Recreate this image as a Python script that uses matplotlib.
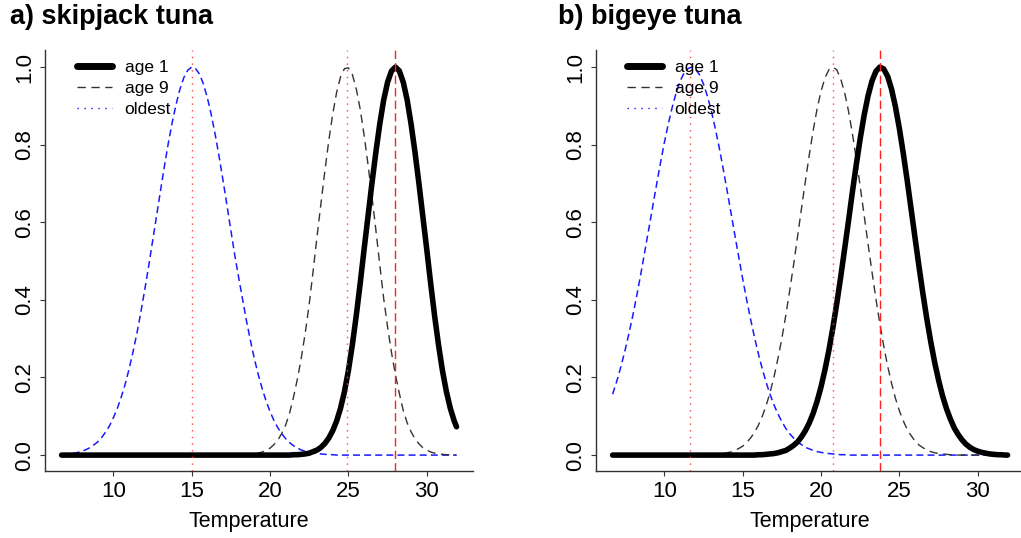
import matplotlib
matplotlib.use('Agg')
import matplotlib.pyplot as plt
from matplotlib.lines import Line2D

plt.rcParams['font.family'] = ['Liberation Sans', 'DejaVu Sans']
plt.rcParams['lines.scale_dashes'] = False

## Temperature grid the curves were read at (one row per degree)
temps = [6.7,
         7.0, 7.25, 7.5, 7.75, 8.0, 8.25, 8.5, 8.75, 9.0, 9.25, 9.5, 9.75,
         10.0, 10.25, 10.5, 10.75, 11.0, 11.25, 11.5, 11.75, 12.0, 12.25, 12.5, 12.75,
         13.0, 13.25, 13.5, 13.75, 14.0, 14.25, 14.5, 14.75, 15.0, 15.25, 15.5, 15.75,
         16.0, 16.25, 16.5, 16.75, 17.0, 17.25, 17.5, 17.75, 18.0, 18.25, 18.5, 18.75,
         19.0, 19.25, 19.5, 19.75, 20.0, 20.25, 20.5, 20.75, 21.0, 21.25, 21.5, 21.75,
         22.0, 22.25, 22.5, 22.75, 23.0, 23.25, 23.5, 23.75, 24.0, 24.25, 24.5, 24.75,
         25.0, 25.25, 25.5, 25.75, 26.0, 26.25, 26.5, 26.75, 27.0, 27.25, 27.5, 27.75,
         28.0, 28.25, 28.5, 28.75, 29.0, 29.25, 29.5, 29.75, 30.0, 30.25, 30.5, 30.75,
         31.0, 31.25, 31.5, 31.75,
         31.9]

## a) skipjack
skj_age1 = [0,
            0, 0, 0, 0,  0, 0, 0, 0,  0, 0, 0, 0,  0, 0, 0, 0,
            0, 0, 0, 0,  0, 0, 0, 0,  0, 0, 0, 0,  0, 0, 0, 0,
            0, 0, 0, 0,  0, 0, 0, 0,  0, 0, 0, 0,  0, 0, 0, 0,
            0, 0, 0, 0,  0, 0, 0, 0,
            0, 0, 0.001, 0.001,
            0.002, 0.003, 0.005, 0.009,
            0.013, 0.020, 0.030, 0.044,
            0.063, 0.088, 0.121, 0.164,
            0.218, 0.284, 0.359, 0.442,
            0.530, 0.615, 0.700, 0.780,
            0.853, 0.915, 0.961, 0.990,
            1.000, 0.990, 0.961, 0.915,
            0.853, 0.780, 0.700, 0.615,
            0.530, 0.442, 0.359, 0.284,
            0.218, 0.164, 0.121, 0.088,
            0.073]
skj_age9 = [0,
            0, 0, 0, 0,  0, 0, 0, 0,  0, 0, 0, 0,  0, 0, 0, 0,
            0, 0, 0, 0,  0, 0, 0, 0,  0, 0, 0, 0,  0, 0, 0, 0,
            0, 0, 0, 0,  0, 0, 0, 0,  0, 0, 0, 0,
            0, 0.001, 0.001, 0.002,
            0.003, 0.005, 0.008, 0.012,
            0.018, 0.027, 0.039, 0.056,
            0.078, 0.109, 0.150, 0.197,
            0.252, 0.316, 0.389, 0.475,
            0.564, 0.649, 0.733, 0.811,
            0.879, 0.935, 0.975, 0.996,
            0.998, 0.981, 0.944, 0.892,
            0.825, 0.749, 0.666, 0.581,
            0.491, 0.404, 0.330, 0.264,
            0.207, 0.159, 0.115, 0.083,
            0.060, 0.042, 0.029, 0.019,
            0.013, 0.008, 0.005, 0.003,
            0.002, 0.001, 0.001, 0,
            0]
skj_old = [0.002,
           0.003, 0.004, 0.005, 0.007,
           0.010, 0.014, 0.019, 0.026,
           0.034, 0.045, 0.059, 0.075,
           0.096, 0.120, 0.149, 0.182,
           0.221, 0.265, 0.313, 0.367,
           0.425, 0.486, 0.550, 0.614,
           0.679, 0.742, 0.802, 0.856,
           0.903, 0.943, 0.973, 0.992,
           1.000, 0.996, 0.982, 0.956,
           0.921, 0.877, 0.826, 0.769,
           0.708, 0.644, 0.579, 0.515,
           0.457, 0.401, 0.345, 0.295,
           0.248, 0.207, 0.171, 0.139,
           0.112, 0.089, 0.070, 0.055,
           0.042, 0.032, 0.024, 0.018,
           0.013, 0.010, 0.007, 0.005,
           0.004, 0.003, 0.002, 0.001,
           0.001, 0, 0, 0,
           0, 0, 0, 0,  0, 0, 0, 0,  0, 0, 0, 0,  0, 0, 0, 0,
           0, 0, 0, 0,  0, 0, 0, 0,  0, 0, 0, 0,
           0]
skj_opt = [15.05, 24.9, 28.0]   # oldest, age 9, age 1

## b) bigeye
bet_age1 = [0,
            0, 0, 0, 0,  0, 0, 0, 0,  0, 0, 0, 0,  0, 0, 0, 0,
            0, 0, 0, 0,  0, 0, 0, 0,  0, 0, 0, 0,  0, 0, 0, 0,
            0, 0, 0, 0,
            0.001, 0.001, 0.002, 0.003,
            0.004, 0.006, 0.009, 0.012,
            0.018, 0.025, 0.034, 0.047,
            0.063, 0.083, 0.108, 0.139,
            0.176, 0.220, 0.270, 0.327,
            0.390, 0.458, 0.530, 0.603,
            0.678, 0.749, 0.816, 0.876,
            0.926, 0.964, 0.989, 1.000,
            0.995, 0.976, 0.943, 0.897,
            0.841, 0.777, 0.707, 0.633,
            0.559, 0.486, 0.416, 0.351,
            0.292, 0.239, 0.193, 0.153,
            0.120, 0.093, 0.070, 0.053,
            0.039, 0.028, 0.020, 0.014,
            0.010, 0.007, 0.005, 0.003,
            0.002, 0.001, 0.001, 0,
            0]
bet_age9 = [0,
            0, 0, 0, 0,  0, 0, 0, 0,  0, 0, 0, 0,  0, 0, 0, 0,
            0, 0, 0, 0,
            0, 0, 0, 0.001,
            0.001, 0.002, 0.003, 0.004,
            0.006, 0.008, 0.012, 0.017,
            0.023, 0.032, 0.044, 0.058,
            0.077, 0.100, 0.128, 0.162,
            0.202, 0.249, 0.301, 0.360,
            0.424, 0.491, 0.563, 0.635,
            0.706, 0.774, 0.837, 0.893,
            0.938, 0.972, 0.993, 1.000,
            0.993, 0.970, 0.935, 0.887,
            0.829, 0.763, 0.692, 0.618,
            0.544, 0.472, 0.403, 0.339,
            0.281, 0.229, 0.185, 0.146,
            0.114, 0.088, 0.066, 0.050,
            0.036, 0.026, 0.019, 0.013,
            0.009, 0.006, 0.004, 0.003,
            0.002, 0.001, 0.001, 0,
            0, 0, 0, 0,  0, 0, 0, 0,  0, 0, 0, 0,
            0]
bet_old = [0.157,
           0.195, 0.231, 0.271, 0.315,
           0.362, 0.413, 0.467, 0.524,
           0.581, 0.639, 0.696, 0.752,
           0.805, 0.853, 0.896, 0.933,
           0.963, 0.984, 0.996, 1.000,
           0.994, 0.980, 0.956, 0.925,
           0.887, 0.842, 0.793, 0.739,
           0.683, 0.625, 0.567, 0.510,
           0.454, 0.401, 0.351, 0.304,
           0.261, 0.222, 0.187, 0.156,
           0.129, 0.106, 0.086, 0.069,
           0.055, 0.044, 0.034, 0.027,
           0.020, 0.016, 0.012, 0.009,
           0.007, 0.005, 0.004, 0.003,
           0.002, 0.001, 0.001, 0,
           0, 0, 0, 0,  0, 0, 0, 0,  0, 0, 0, 0,  0, 0, 0, 0,
           0, 0, 0, 0,  0, 0, 0, 0,  0, 0, 0, 0,  0, 0, 0, 0,
           0, 0, 0, 0,  0, 0, 0, 0,
           0]
bet_opt = [11.66, 20.76, 23.76]

titles = ['a) skipjack tuna', 'b) bigeye tuna']
legend_labels = ['age 1', 'age 9', 'oldest']
xticks = [10, 15, 20, 25, 30]
yticks = [0.0, 0.2, 0.4, 0.6, 0.8, 1.0]

for series in [skj_age1, skj_age9, skj_old, bet_age1, bet_age9, bet_old]:
    assert len(series) == len(temps)

W, H = 1021, 538
fig = plt.figure(figsize=(W / 100, H / 100), dpi=100)


def draw_panel(ax, age1, age9, old, opt):
    """ Draws the three thermal curves and the optimum lines on one axis """
    ax.plot(temps, old, color='#1a1aff', lw=1.1, dashes=(5, 3), zorder=2)
    ax.plot(temps, age9, color='#333333', lw=1.0, dashes=(6, 4), zorder=3)
    ax.plot(temps, age1, color='black', lw=4.0, solid_capstyle='round',
            solid_joinstyle='round', zorder=4)
    ax.axvline(opt[0], color='#ff4040', lw=1.0, dashes=(1, 3.8), zorder=5)
    ax.axvline(opt[1], color='#ff4040', lw=1.0, dashes=(1, 3.8), zorder=5)
    ax.axvline(opt[2], color='#ff2020', lw=1.0, dashes=(6, 3), zorder=5)
    ax.set_xlim(5.64, 32.95)
    ax.set_ylim(-0.041, 1.044)
    ax.set_xticks(xticks)
    ax.set_yticks(yticks)
    ax.set_yticklabels(['%.1f' % v for v in yticks])
    ax.tick_params(direction='out', length=3.6, width=0.8, labelsize=16,
                   color='#333333', pad=3.5)
    for lab in ax.get_yticklabels():
        lab.set_rotation(90)
        lab.set_va('center')
    for side in ['top', 'right']:
        ax.spines[side].set_visible(False)
    for side in ['left', 'bottom']:
        ax.spines[side].set_linewidth(1.0)
        ax.spines[side].set_color('#333333')


handles = [Line2D([], [], color='black', lw=5.0, solid_capstyle='round'),
           Line2D([], [], color='#333333', lw=1.0, dashes=(6, 4)),
           Line2D([], [], color='#1a1aff', lw=1.0, dashes=(1, 4))]

axes_left = [45, 596]
legend_left = [77, 627]
title_left = [10, 558]
xlabel_pos = [0.477, 0.5]
panels = [(skj_age1, skj_age9, skj_old, skj_opt),
          (bet_age1, bet_age9, bet_old, bet_opt)]

for i in range(2):
    ax = fig.add_axes([axes_left[i] / W, 1 - 471 / H, 428 / W, 421 / H])
    draw_panel(ax, *panels[i])
    ax.set_xlabel('Temperature', fontsize=15.5)
    ax.xaxis.set_label_coords(xlabel_pos[i], -0.095)
    ax.legend(handles, legend_labels, loc='upper left', frameon=False,
              bbox_to_anchor=(legend_left[i] / W, 1 - 60 / H),
              bbox_transform=fig.transFigure, borderpad=0, borderaxespad=0,
              fontsize=12.5, handlelength=2.0, handletextpad=0.75,
              labelspacing=0.33)
    fig.text(title_left[i] / W, 1 - 24 / H, titles[i], fontsize=19.5,
             fontweight='bold', ha='left', va='baseline')

fig.savefig('out.png', dpi=100)
